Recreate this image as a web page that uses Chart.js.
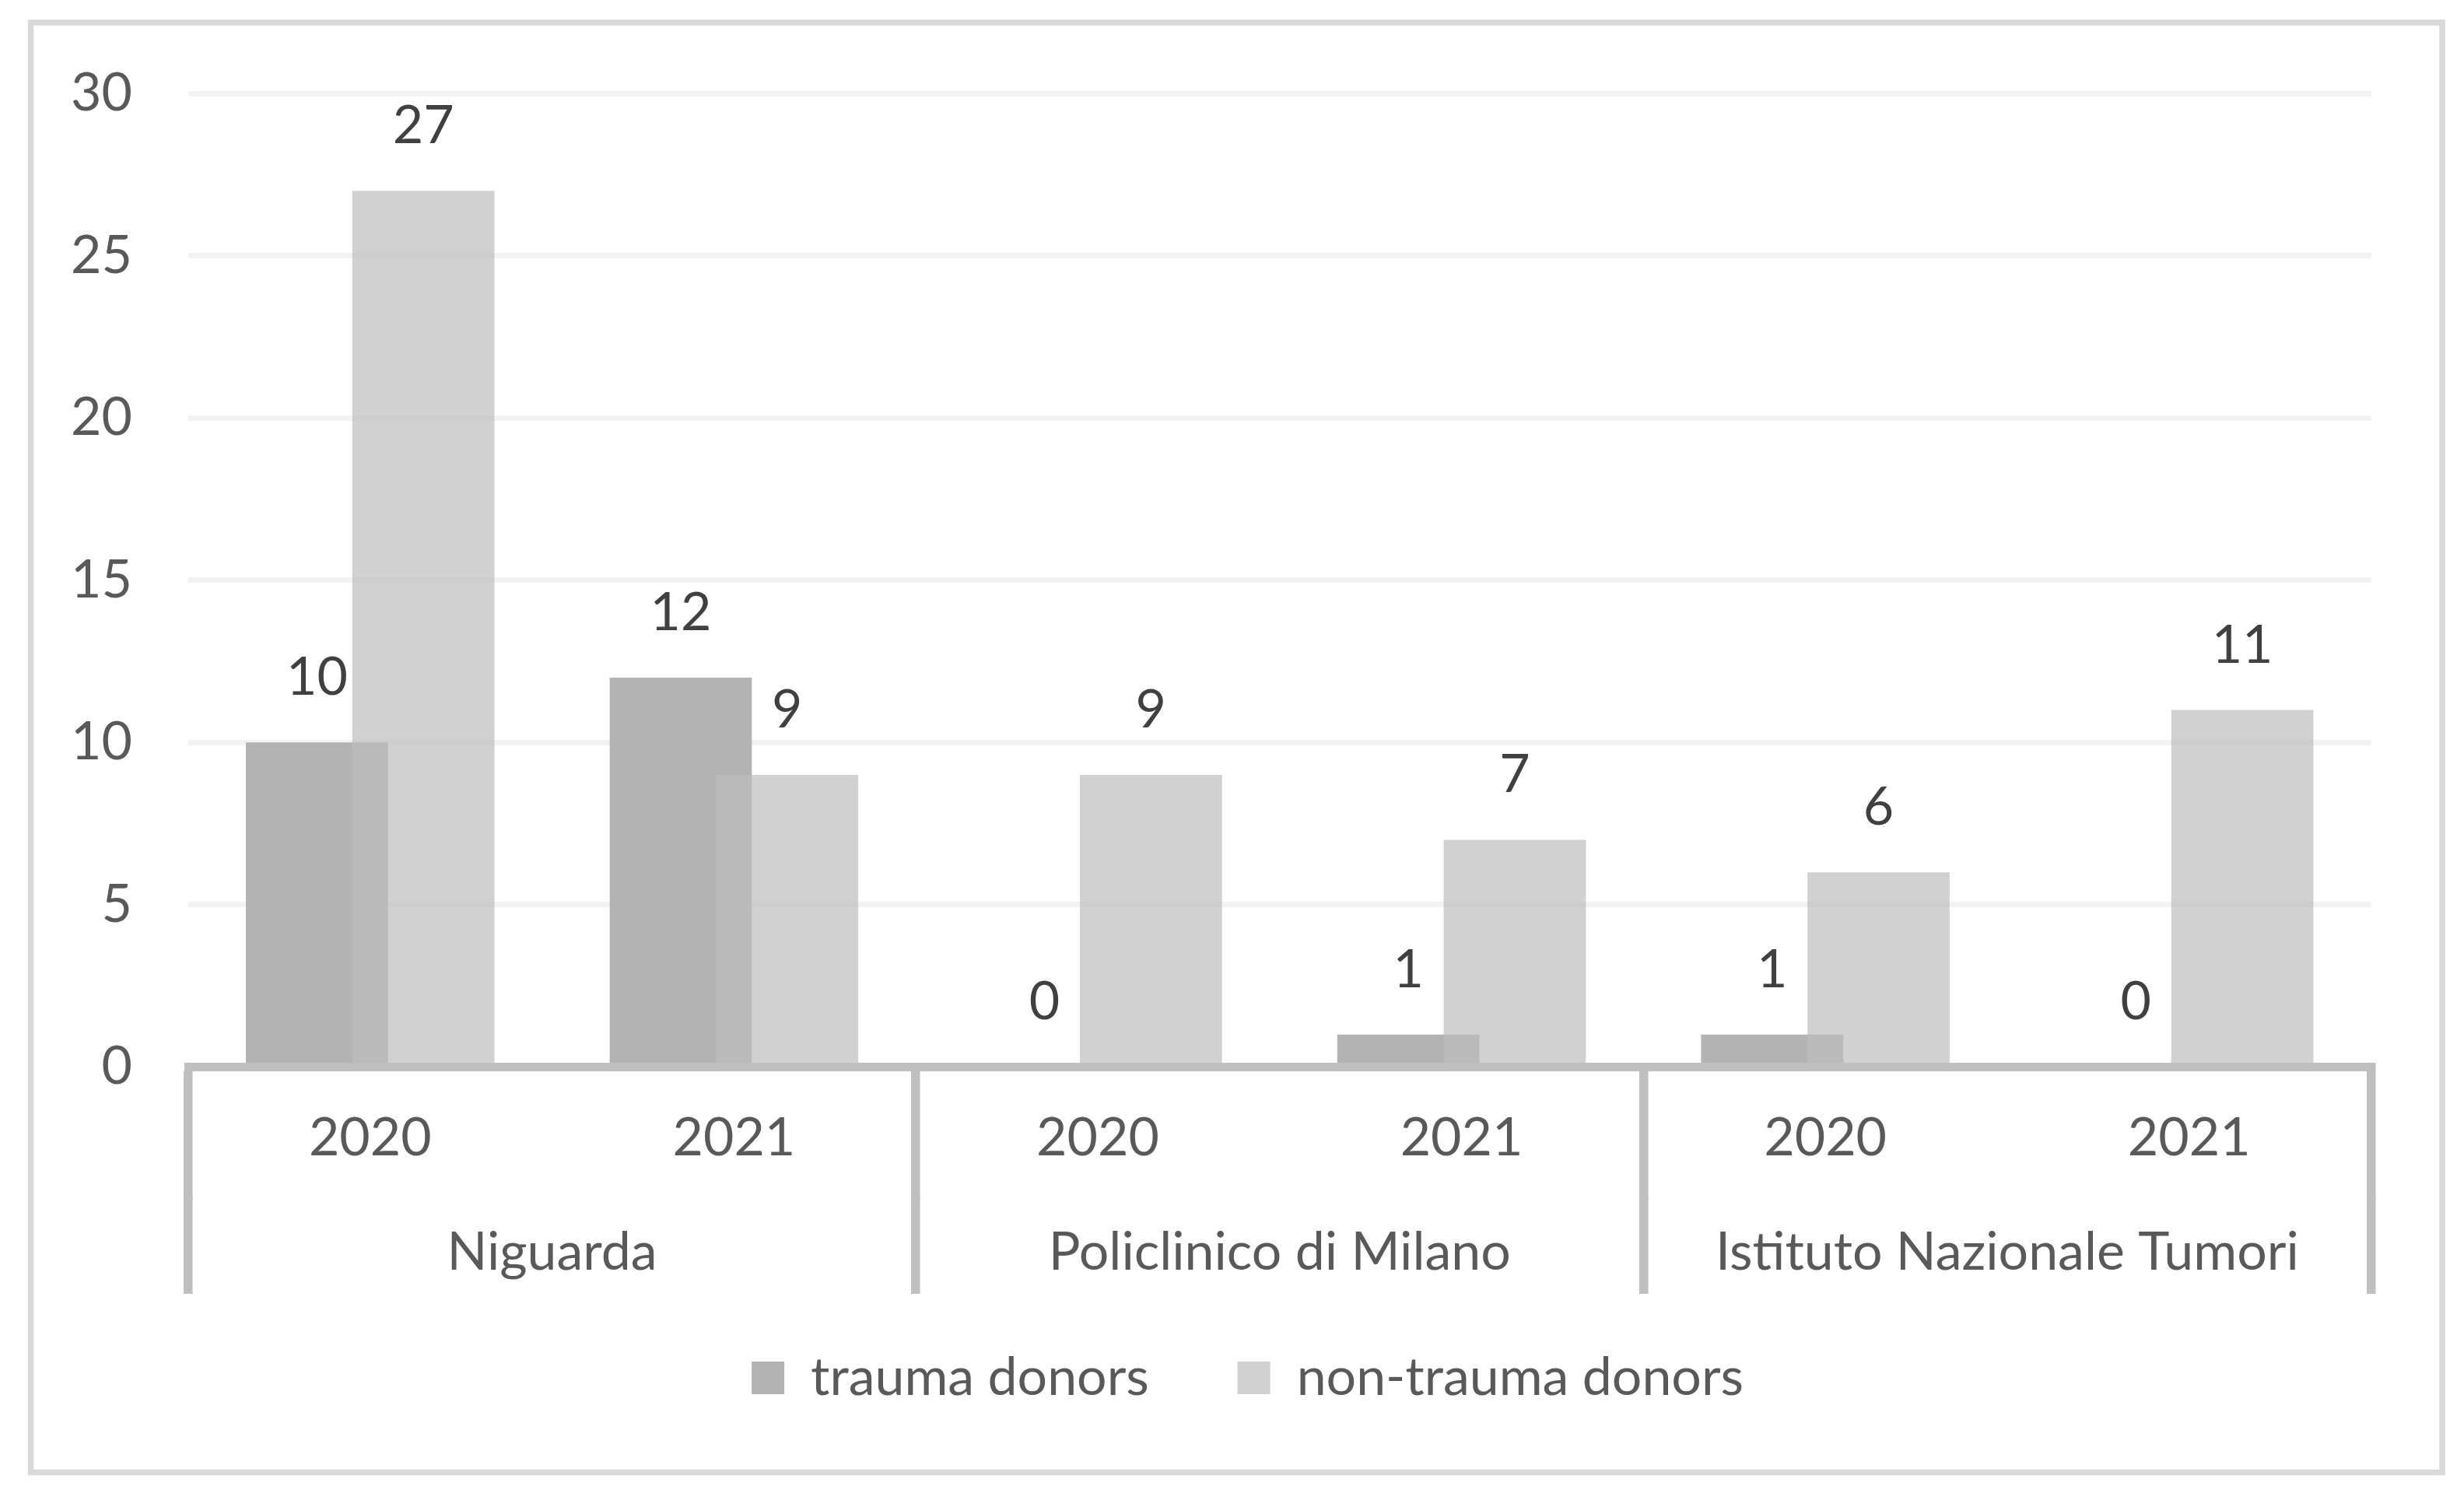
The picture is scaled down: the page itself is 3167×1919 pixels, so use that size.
<!DOCTYPE html>
<html>
<head>
<meta charset="utf-8">
<script src="https://cdn.jsdelivr.net/npm/chart.js@4.4.1/dist/chart.umd.min.js"></script>
<style>
  html, body { margin: 0; padding: 0; background: #ffffff; }
  canvas { display: block; }
</style>
</head>
<body>
<canvas id="donorChart" width="3167" height="1919"></canvas>
<script>
// chart data
const years = ['2020', '2021', '2020', '2021', '2020', '2021'];
const hospitals = ['Niguarda', 'Policlinico di Milano', 'Istituto Nazionale Tumori'];
const traumaDonors = [10, 12, 0, 1, 1, 0];
const nonTraumaDonors = [27, 9, 9, 7, 6, 11];
const yTicks = [0, 5, 10, 15, 20, 25, 30];

const FONT = 'Lato, "Open Sans", sans-serif';
const SEP = '#bfbfbf';

// white page + light frame round the whole chart
const frame = {
    id: 'frame',
    beforeDraw(chart) {
        const ctx = chart.ctx;
        ctx.save();
        ctx.fillStyle = '#ffffff';
        ctx.fillRect(0, 0, chart.width, chart.height);
        ctx.strokeStyle = '#d9d9d9';
        ctx.lineWidth = 7.5;
        ctx.strokeRect(39.5, 29, 3099.5, 1863.5);
        ctx.restore();
    }
};

// draw datasets in index order so the lighter (semi transparent) bars sit on top
const drawOrder = {
    id: 'drawOrder',
    beforeDatasetsDraw(chart) {
        chart.getSortedVisibleDatasetMetas().forEach(meta => meta.controller.draw());
        return false;
    }
};

// value labels above every bar
const valueLabels = {
    id: 'valueLabels',
    afterDraw(chart) {
        const ctx = chart.ctx;
        ctx.save();
        ctx.font = '68px ' + FONT;
        ctx.fillStyle = '#404040';
        ctx.textAlign = 'center';
        ctx.textBaseline = 'middle';
        chart.data.datasets.forEach((ds, i) => {
            chart.getDatasetMeta(i).data.forEach((bar, j) => {
                const {x, y} = bar.getProps(['x', 'y'], true);
                ctx.fillText(String(ds.data[j]), x, y - 83);
            });
        });
        ctx.restore();
    }
};

const isBoundary = c => c.index === undefined || c.index % 2 === 0;

new Chart(document.getElementById('donorChart'), {
    type: 'bar',
    data: {
        labels: years,
        datasets: [
            {
                label: 'trauma donors',
                data: traumaDonors,
                backgroundColor: '#b3b3b3',
                borderWidth: 0,
                categoryPercentage: 0.585,
                barPercentage: 1.336
            },
            {
                label: 'non-trauma donors',
                data: nonTraumaDonors,
                backgroundColor: 'rgba(190,190,190,0.7)',
                borderWidth: 0,
                categoryPercentage: 0.585,
                barPercentage: 1.336
            }
        ]
    },
    options: {
        responsive: false,
        devicePixelRatio: 1,
        animation: false,
        layout: { padding: { left: 40, right: 0, top: 120, bottom: 104 } },
        plugins: {
            tooltip: { enabled: false },
            legend: {
                position: 'bottom',
                labels: {
                    font: { family: FONT, size: 68 },
                    color: '#595959',
                    boxWidth: 42,
                    boxHeight: 42,
                    padding: 114
                }
            }
        },
        scales: {
            x: {
                type: 'category',
                position: 'bottom',
                offset: true,
                grid: {
                    offset: true,
                    drawOnChartArea: false,
                    drawTicks: true,
                    tickLength: 170,
                    color: c => isBoundary(c) ? SEP : 'rgba(0,0,0,0)',
                    lineWidth: 11.5
                },
                border: { display: true, color: SEP, width: 11, z: 1 },
                ticks: {
                    font: { family: FONT, size: 68 },
                    color: '#595959',
                    padding: -119.3,
                    maxRotation: 0,
                    autoSkip: false
                },
                afterFit: s => { s.height = 165; }
            },
            groups: {
                type: 'category',
                axis: 'x',
                position: 'bottom',
                labels: hospitals,
                offset: true,
                grid: {
                    offset: true,
                    drawOnChartArea: false,
                    drawTicks: true,
                    tickLength: 126.5,
                    color: SEP,
                    lineWidth: 11.5
                },
                border: { display: false },
                ticks: {
                    // mirrored so the labels are not clipped to the short axis box
                    mirror: true,
                    font: { family: FONT, size: 68 },
                    color: '#595959',
                    padding: -114.3,
                    maxRotation: 0,
                    autoSkip: false
                },
                afterFit: s => { s.height = 86.5; }
            },
            y: {
                type: 'linear',
                position: 'left',
                min: yTicks[0],
                max: yTicks[yTicks.length - 1],
                afterBuildTicks: s => { s.ticks = yTicks.map(v => ({ value: v })); },
                grid: { color: '#f2f2f2', lineWidth: 7, drawTicks: false },
                border: { display: false },
                ticks: {
                    font: { family: FONT, size: 68 },
                    color: '#595959',
                    padding: 72
                },
                afterFit: s => { s.width = 202; }
            },
            yRight: {
                type: 'linear',
                position: 'right',
                grid: { display: false },
                border: { display: false },
                ticks: { display: false },
                afterFit: s => { s.width = 119.5; }
            }
        }
    },
    plugins: [frame, drawOrder, valueLabels]
});
</script>
</body>
</html>
